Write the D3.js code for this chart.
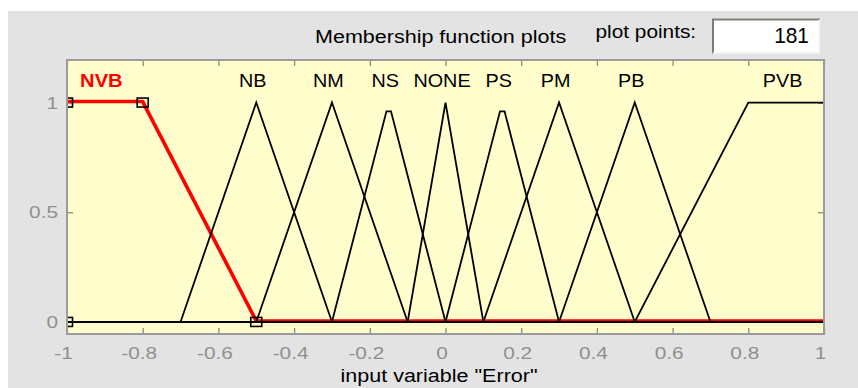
<!DOCTYPE html>
<html>
<head>
<meta charset="utf-8">
<script src="https://cdn.jsdelivr.net/npm/d3@7"></script>
<style>
  html, body { margin: 0; padding: 0; background: #ffffff; }
  svg { display: block; }
  text { font-family: "Liberation Sans", Arial, sans-serif; }
</style>
</head>
<body>
<div id="chart"></div>
<script>
// ---------------- data ----------------
const xTicks = [-1, -0.8, -0.6, -0.4, -0.2, 0, 0.2, 0.4, 0.6, 0.8, 1];
const xTickLabels = ["-1", "-0.8", "-0.6", "-0.4", "-0.2", "0", "0.2", "0.4", "0.6", "0.8", "1"];
const yTicks = [0, 0.5, 1];
const yTickLabels = ["0", "0.5", "1"];

const mfNames = ["NVB", "NB", "NM", "NS", "NONE", "PS", "PM", "PB", "PVB"];
const mfLabelX = [-0.9, -0.5, -0.3, -0.15, 0, 0.15, 0.3, 0.5, 0.9];

// vertices [x, membership] of each membership function as plotted
const NVB  = [[-1, 1], [-0.8, 1], [-0.5, 0], [1, 0]];
const NB   = [[-1, 0], [-0.7, 0], [-0.5, 1], [-0.3, 0], [1, 0]];
const NM   = [[-1, 0], [-0.5, 0], [-0.3, 1], [-0.1, 0], [1, 0]];
const NS   = [[-1, 0], [-0.3, 0], [-0.156, 0.96], [-0.144, 0.96], [0, 0], [1, 0]];
const NONE = [[-1, 0], [-0.1, 0], [0, 1], [0.1, 0], [1, 0]];
const PS   = [[-1, 0], [0, 0], [0.144, 0.96], [0.156, 0.96], [0.3, 0], [1, 0]];
const PM   = [[-1, 0], [0.1, 0], [0.3, 1], [0.5, 0], [1, 0]];
const PB   = [[-1, 0], [0.3, 0], [0.5, 1], [0.7, 0], [1, 0]];
const PVB  = [[-1, 0], [0.5, 0], [0.8, 1], [1, 1]];

const mfCurves = [NVB, NB, NM, NS, NONE, PS, PM, PB, PVB];
const selectedIndex = 0;                       // NVB highlighted
const selectedMarkers = [[-1, 1], [-0.8, 1], [-1, 0], [-0.5, 0]];

const titleText = "Membership function plots";
const pointsLabel = "plot points:";
const pointsValue = "181";
const xAxisTitle = 'input variable "Error"';

// ---------------- drawing ----------------
const W = 858, H = 388;
const plot = { left: 67, right: 824, top: 60, bottom: 334 };
const FONT = '"Liberation Sans", Arial, sans-serif';

const svg = d3.select("#chart").append("svg")
  .attr("width", W).attr("height", H);

svg.append("rect").attr("x", 0).attr("y", 0).attr("width", W).attr("height", H).attr("fill", "#ffffff");
svg.append("rect").attr("x", 8).attr("y", 11).attr("width", W - 8).attr("height", H - 11).attr("fill", "#e3e3e3");

const x = d3.scaleLinear().domain([-1, 1]).range([plot.left, plot.right]);
const y = d3.scaleLinear().domain([-0.055, 1.194]).range([plot.bottom, plot.top]);

// plot background
svg.append("rect")
  .attr("x", plot.left).attr("y", plot.top)
  .attr("width", plot.right - plot.left).attr("height", plot.bottom - plot.top)
  .attr("fill", "#fffdcc");

svg.append("clipPath").attr("id", "clip")
  .append("rect")
  .attr("x", plot.left).attr("y", plot.top)
  .attr("width", plot.right - plot.left).attr("height", plot.bottom - plot.top);

// ticks (inward) via d3 axes
function styleAxis(g) {
  g.select(".domain").remove();
  g.selectAll("line").attr("stroke", "#8a8a8a").attr("stroke-width", 1.3);
  g.selectAll("text").remove();
}
svg.append("g").attr("transform", `translate(0,${plot.bottom})`)
  .call(d3.axisBottom(x).tickValues(xTicks).tickSizeInner(-6).tickSizeOuter(0)).call(styleAxis);
svg.append("g").attr("transform", `translate(0,${plot.top})`)
  .call(d3.axisTop(x).tickValues(xTicks).tickSizeInner(-6).tickSizeOuter(0)).call(styleAxis);
svg.append("g").attr("transform", `translate(${plot.left},0)`)
  .call(d3.axisLeft(y).tickValues(yTicks).tickSizeInner(-6).tickSizeOuter(0)).call(styleAxis);
svg.append("g").attr("transform", `translate(${plot.right},0)`)
  .call(d3.axisRight(y).tickValues(yTicks).tickSizeInner(-6).tickSizeOuter(0)).call(styleAxis);

// curves
const line = d3.line().x(d => x(d[0])).y(d => y(d[1]));
const curves = svg.append("g").attr("clip-path", "url(#clip)");

curves.append("path")
  .datum(mfCurves[selectedIndex])
  .attr("d", line)
  .attr("fill", "none")
  .attr("stroke", "#ff0000")
  .attr("stroke-width", 3.6)
  .attr("stroke-linejoin", "round")
  .attr("transform", "translate(0,-1)");

curves.selectAll("path.mf")
  .data(mfCurves.filter((d, i) => i !== selectedIndex))
  .join("path")
  .attr("class", "mf")
  .attr("d", line)
  .attr("fill", "none")
  .attr("stroke", "#000000")
  .attr("stroke-width", 1.8);

curves.selectAll("rect.marker")
  .data(selectedMarkers)
  .join("rect")
  .attr("class", "marker")
  .attr("x", d => x(d[0]) - 5.5)
  .attr("y", d => y(d[1]) - 4.5)
  .attr("width", 11).attr("height", 9)
  .attr("fill", "none")
  .attr("stroke", "#000000")
  .attr("stroke-width", 1.6);

// plot frame
svg.append("rect")
  .attr("x", plot.left).attr("y", plot.top)
  .attr("width", plot.right - plot.left).attr("height", plot.bottom - plot.top)
  .attr("fill", "none").attr("stroke", "#9c9c9c").attr("stroke-width", 2);

// text helper with horizontal stretch
function label(tx, ty, str, opts) {
  const o = Object.assign({ size: 17.5, sx: 1.22, anchor: "start", fill: "#000", weight: "normal" }, opts || {});
  svg.append("text")
    .attr("transform", `translate(${tx},${ty}) scale(${o.sx},1)`)
    .attr("x", 0).attr("y", 0)
    .attr("text-anchor", o.anchor)
    .attr("font-family", FONT)
    .attr("font-size", o.size)
    .attr("font-weight", o.weight)
    .attr("fill", o.fill)
    .text(str);
}

// tick labels
xTicks.forEach((t, i) => label(x(t) - 3.5, 358.5, xTickLabels[i], { size: 16, sx: 1.3, anchor: "middle", fill: "#8f8f8f" }));
yTicks.forEach((t, i) => label(58, y(t) + 6, yTickLabels[i], { size: 16, sx: 1.3, anchor: "end", fill: "#8f8f8f" }));

// MF labels
mfNames.forEach((n, i) => {
  const sel = i === selectedIndex;
  label(x(mfLabelX[i]) - 3.5, 87, n, {
    size: 18, sx: sel ? 1.12 : 1.1, anchor: "middle",
    fill: sel ? "#ff0000" : "#000", weight: sel ? "bold" : "normal"
  });
});

// titles
label(315, 42.7, titleText, { size: 17.5, sx: 1.23 });
label(595.5, 37.5, pointsLabel, { size: 17.5, sx: 1.19 });
label(340.5, 382.3, xAxisTitle, { size: 17.5, sx: 1.23 });

// plot points edit box
const bx = 712, by = 18.5, bw = 108, bh = 35;
svg.append("rect").attr("x", bx).attr("y", by).attr("width", bw).attr("height", bh).attr("fill", "#ffffff");
svg.append("path").attr("d", `M${bx + 1},${by + bh} V${by + 1} H${bx + bw}`)
  .attr("fill", "none").attr("stroke", "#7d7d74").attr("stroke-width", 2);
svg.append("path").attr("d", `M${bx + 1},${by + bh - 0.5} H${bx + bw - 0.5} V${by + 1}`)
  .attr("fill", "none").attr("stroke", "#f2f2f2").attr("stroke-width", 1.5);
label(809, 43.3, pointsValue, { size: 22, sx: 0.95, anchor: "end" });
</script>
</body>
</html>
